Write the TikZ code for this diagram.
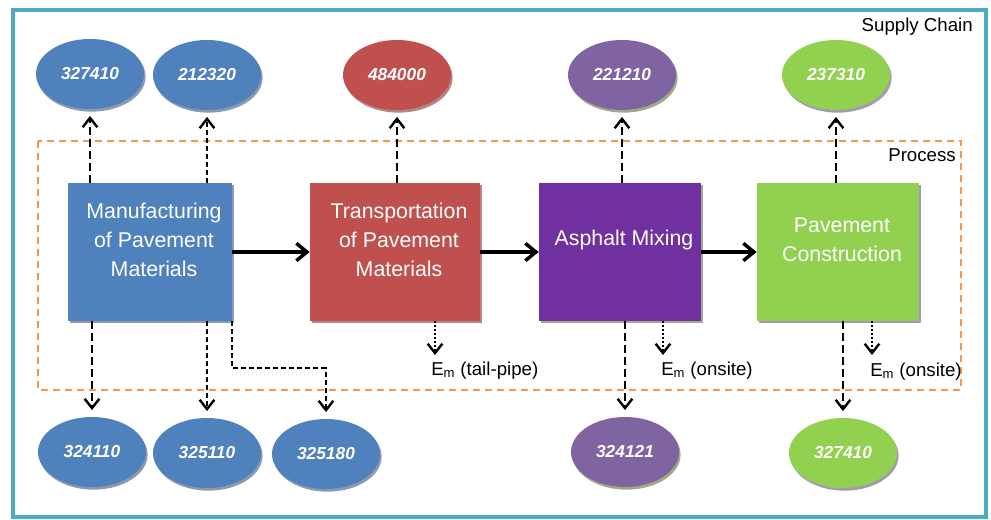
\documentclass[tikz,border=0pt]{standalone}
\usepackage{fontspec}
\setmainfont{Liberation Sans}
\usepackage{xcolor}
\usepackage{tikz}
\usetikzlibrary{arrows.meta}
\usetikzlibrary{calc}
\usetikzlibrary{positioning}
\usetikzlibrary{shadows}
\usetikzlibrary{shapes.geometric}

\definecolor{chainframe}{HTML}{4BACC6}
\definecolor{procframe}{HTML}{F79646}
\definecolor{matblue}{HTML}{4F81BD}
\definecolor{matshadow}{HTML}{8C99AE}
\definecolor{transred}{HTML}{C0504D}
\definecolor{transshadow}{HTML}{B38585}
\definecolor{mixpurple}{HTML}{7030A0}
\definecolor{mixshadow}{HTML}{A2A98A}
\definecolor{naicspurple}{HTML}{8064A2}
\definecolor{pavegreen}{HTML}{92D050}
\definecolor{paveshadow}{HTML}{A29BB0}

\begin{document}
\begin{tikzpicture}[x=0.75pt,y=-0.75pt,
    flow/.style={-{Straight Barb[length=8pt,width=13pt]},line width=2.6pt},
    supply/.style={-{Straight Barb[length=7pt,width=11pt]},line width=1.8pt,dash pattern=on 6pt off 3pt},
    supply short/.style={supply,dash pattern=on 3.75pt off 2.25pt},
    emission/.style={-{Straight Barb[length=7pt,width=11pt]},line width=1.8pt,dash pattern=on 1.5pt off 1.5pt},
    proc box/.style 2 args={rectangle,inner sep=0pt,minimum height=103.5pt,fill=#1,
        drop shadow={shadow xshift=1.5pt,shadow yshift=-1.8pt,opacity=1,fill=#2}},
    box text/.style={text=white,align=center,font=\fontsize{16}{21.75}\selectfont,xshift=3pt,yshift=9pt},
    naics/.style 2 args={ellipse,minimum width=81pt,minimum height=52.5pt,inner sep=0pt,fill=#1,
        text=white,font=\fontsize{13}{15}\selectfont\bfseries\itshape,
        drop shadow={shadow xshift=1.2pt,shadow yshift=-2pt,opacity=1,fill=#2}},
    em text/.style={anchor=base west,inner sep=0pt,font=\fontsize{14}{16}\selectfont},
    frame text/.style={anchor=east,inner sep=0pt,font=\fontsize{14}{16}\selectfont}]

    \useasboundingbox (0,0) rectangle (991,520);
    \draw[chainframe,line width=3pt] (13,10) rectangle (986,517);
    \draw[procframe,line width=1.5pt,dash pattern=on 5.25pt off 3.75pt] (38,141) rectangle (961,390);

    \node[frame text] (chainlabel) at (973,27) {Supply Chain};
    \node[frame text] (proclabel) at (956,155) {Process};

    \node[proc box={matblue}{matshadow},minimum width=123pt,
        label={[box text]center:Manufacturing\\of Pavement\\Materials}] (manufacturing) at (150,252) {};
    \node[proc box={transred}{transshadow},minimum width=127.5pt,
        label={[box text]center:Transportation\\of Pavement\\Materials}] (transportation) at (395,252) {};
    \node[proc box={mixpurple}{mixshadow},minimum width=121.5pt,
        label={[box text]center:Asphalt Mixing}] (mixing) at (620,252) {};
    \node[proc box={pavegreen}{paveshadow},minimum width=121.5pt,
        label={[box text]center:Pavement\\Construction}] (construction) at (838,252) {};

    \node[naics={matblue}{matshadow}] (n327410a) at (90,74) {327410};
    \node[naics={matblue}{matshadow}] (n212320) at (207,75) {212320};
    \node[naics={transred}{transshadow}] (n484000) at (397,75) {484000};
    \node[naics={naicspurple}{mixshadow}] (n221210) at (622,75) {221210};
    \node[naics={pavegreen}{paveshadow}] (n237310) at (836,75) {237310};

    \node[naics={matblue}{matshadow}] (n324110) at (92,452) {324110};
    \node[naics={matblue}{matshadow}] (n325110) at (207,453) {325110};
    \node[naics={matblue}{matshadow}] (n325180) at (326,454) {325180};
    \node[naics={naicspurple}{mixshadow}] (n324121) at (625,452) {324121};
    \node[naics={pavegreen}{paveshadow}] (n327410b) at (843,453) {327410};

    \draw[flow] (manufacturing) -- (transportation);
    \draw[flow] (transportation) -- (mixing);
    \draw[flow] (mixing) -- (construction);

    \draw[supply,shorten >=5pt] (n327410a.south |- manufacturing.north) -- (n327410a.south);
    \draw[supply short,shorten >=5pt] (n212320.south |- manufacturing.north) -- (n212320.south);
    \draw[supply,shorten >=5pt] (n484000.south |- transportation.north) -- (n484000.south);
    \draw[supply,shorten >=5pt] (n221210.south |- mixing.north) -- (n221210.south);
    \draw[supply,shorten >=5pt] (n237310.south |- construction.north) -- (n237310.south);

    \draw[supply,shorten >=5pt] (n324110.north |- manufacturing.south) -- (n324110.north);
    \draw[supply short,shorten >=5pt] (n325110.north |- manufacturing.south) -- (n325110.north);
    \draw[supply short,shorten >=5pt] (manufacturing.south east) -- ++(0,47) -| (n325180.north);
    \draw[supply,shorten >=5pt] (n324121.north |- mixing.south) -- (n324121.north);
    \draw[supply,shorten >=5pt] (n327410b.north |- construction.south) -- (n327410b.north);

    \coordinate (tailpipe) at (435,355);
    \coordinate (mixsite) at (663,355);
    \coordinate (pavesite) at (872,355);
    \draw[emission] (transportation.south -| tailpipe) -- (tailpipe);
    \draw[emission] (mixing.south -| mixsite) -- (mixsite);
    \draw[emission] (construction.south -| pavesite) -- (pavesite);
    \node[em text] (tailpipetext) at (431,375) {E\textsubscript{m} (tail-pipe)};
    \node[em text] (mixsitetext) at (661,375) {E\textsubscript{m} (onsite)};
    \node[em text] (pavesitetext) at (870,376) {E\textsubscript{m} (onsite)};

\end{tikzpicture}
\end{document}
